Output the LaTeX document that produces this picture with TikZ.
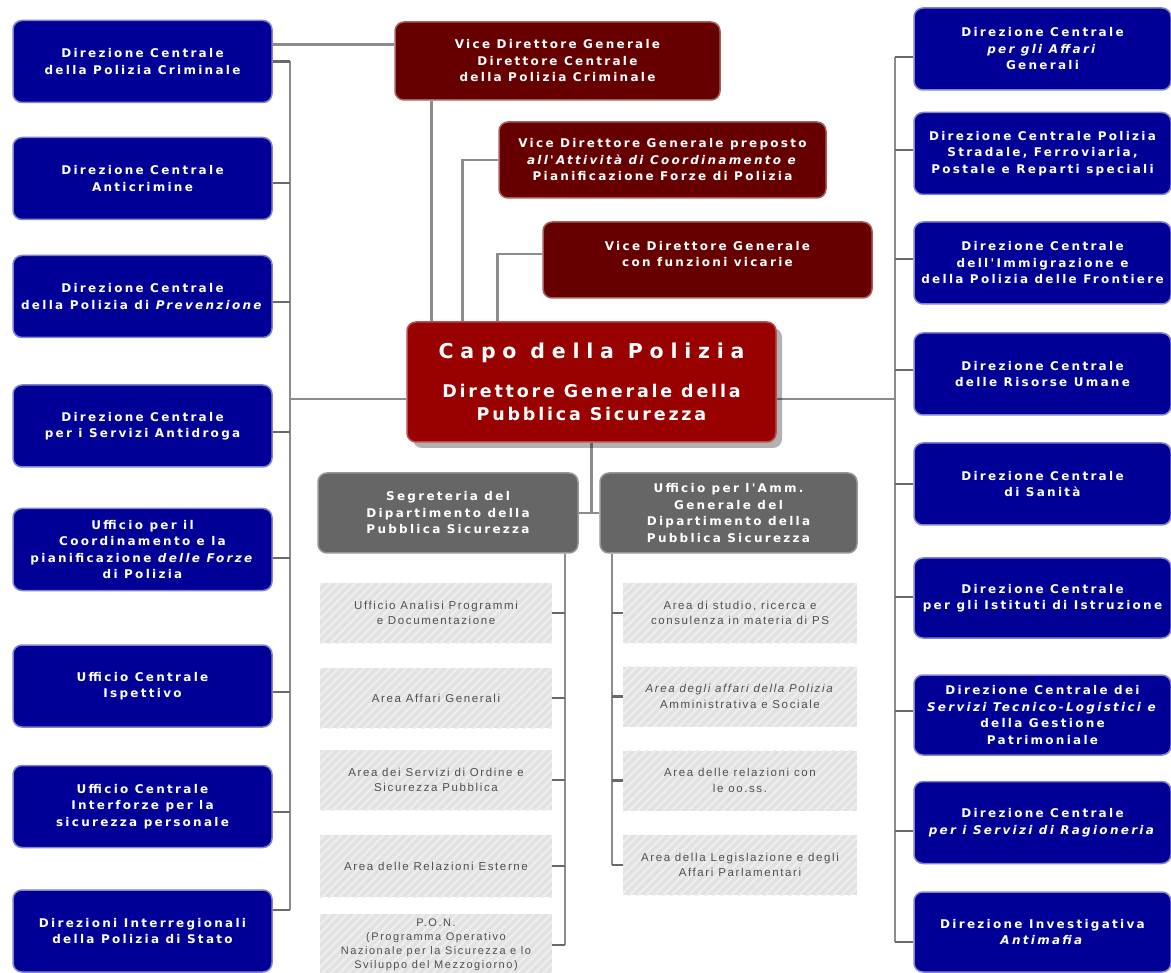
\documentclass[tikz,border=0pt]{standalone}
\usepackage{fontspec}
\usetikzlibrary{patterns.meta,shadows,backgrounds}
\newfontfamily\boxfont{DejaVu Sans}[LetterSpace=19]
\newfontfamily\capofont{DejaVu Sans}[LetterSpace=33]
\newfontfamily\subfont{DejaVu Sans}[LetterSpace=16]
\newfontfamily\areafont{Liberation Sans}[LetterSpace=14]
\definecolor{navy}{RGB}{0,0,150}
\definecolor{navyedge}{RGB}{130,130,205}
\definecolor{vicered}{RGB}{102,0,0}
\definecolor{viceedge}{RGB}{165,95,95}
\definecolor{capored}{RGB}{153,0,0}
\definecolor{capoedge}{RGB}{185,80,80}
\definecolor{boxgray}{RGB}{102,102,102}
\definecolor{grayedge}{RGB}{150,150,150}
\definecolor{hatchbg}{RGB}{226,226,226}
\definecolor{hatchline}{RGB}{238,238,238}
\definecolor{areatext}{RGB}{80,80,80}
\definecolor{linegray}{RGB}{140,140,140}
\definecolor{tickgray}{RGB}{105,105,105}
\begin{document}
\begin{tikzpicture}[x=1pt,y=-1pt,
 bx/.style={rounded corners=9pt, inner sep=0pt, align=center, text=white,
   font=\boxfont\bfseries\fontsize{12}{16.5}\selectfont},
 bluebox/.style={bx, fill=navy, draw=navyedge, line width=1.5pt, minimum width=259pt, minimum height=82pt},
 rbox/.style={bluebox, minimum width=257pt},
 vicebox/.style={bx, fill=vicered, draw=viceedge, line width=1.5pt, minimum height=77pt},
 capobox/.style={bx, fill=capored, draw=capoedge, line width=1.5pt, minimum width=369pt, minimum height=120pt,
   drop shadow={shadow xshift=6pt, shadow yshift=-6pt, fill=black, opacity=0.3},
   font=\subfont\bfseries\fontsize{17.5}{23}\selectfont},
 graybox/.style={bx, fill=boxgray, draw=grayedge, line width=1.5pt, minimum height=80pt},
 areabox/.style={inner sep=0pt, align=center, text=areatext, fill=hatchbg,
   postaction={pattern={Lines[angle=45,distance=6pt,line width=2.2pt]}, pattern color=hatchline},
   minimum height=60pt, font=\areafont\fontsize{11.5}{15.5}\selectfont},
 conn/.style={draw=linegray, line width=2.5pt},
 tick/.style={draw=tickgray, line width=2.5pt}]
\useasboundingbox (0,0) rectangle (1171,973);

% left column
\node[bluebox] (L1) at (142.5,61.5) {Direzione Centrale\\della Polizia Criminale};
\node[bluebox] (L2) at (142.5,178.5) {Direzione Centrale\\Anticrimine};
\node[bluebox] (L3) at (142.5,296.5) {Direzione Centrale\\della Polizia di \textit{Prevenzione}};
\node[bluebox] (L4) at (142.5,426) {Direzione Centrale\\per i Servizi Antidroga};
\node[bluebox] (L5) at (142.5,549.5) {Ufficio per il\\Coordinamento e la\\pianificazione \textit{delle Forze}\\di Polizia};
\node[bluebox] (L6) at (142.5,686) {Ufficio Centrale\\Ispettivo};
\node[bluebox] (L7) at (142.5,806.5) {Ufficio Centrale\\Interforze per la\\sicurezza personale};
\node[bluebox] (L8) at (142.5,931) {Direzioni Interregionali\\della Polizia di Stato};

% right column
\node[rbox] (R1) at (1042.5,49) {Direzione Centrale\\\textit{per gli Affari}\\Generali};
\node[rbox] (R2) at (1042.5,153.5) {Direzione Centrale Polizia\\Stradale, Ferroviaria,\\Postale e Reparti speciali};
\node[rbox] (R3) at (1042.5,263) {Direzione Centrale\\dell'Immigrazione e\\della Polizia delle Frontiere};
\node[rbox] (R4) at (1042.5,374) {Direzione Centrale\\delle Risorse Umane};
\node[rbox] (R5) at (1042.5,484) {Direzione Centrale\\di Sanità};
\node[rbox, minimum height=80pt] (R6) at (1042.5,598) {Direzione Centrale\\per gli Istituti di Istruzione};
\node[rbox, minimum height=80pt] (R7) at (1042.5,715) {Direzione Centrale dei\\\textit{Servizi Tecnico-Logistici e}\\della Gestione\\Patrimoniale};
\node[rbox] (R8) at (1042.5,822.5) {Direzione Centrale\\\textit{per i Servizi di Ragioneria}};
\node[rbox, minimum height=80pt] (R9) at (1042.5,932) {Direzione Investigativa\\\textit{Antimafia}};

% vice directors
\node[vicebox, minimum width=325pt, minimum height=78pt] (V1) at (557.5,61) {Vice Direttore Generale\\Direttore Centrale\\della Polizia Criminale};
\node[vicebox, minimum width=327pt, minimum height=76pt] (V2) at (662.5,160) {Vice Direttore Generale preposto\\\textit{all'Attività di Coordinamento e}\\Pianificazione Forze di Polizia};
\node[vicebox, minimum width=329pt, minimum height=76pt] (V3) at (707.5,260) {Vice Direttore Generale\\con funzioni vicarie\\[-4pt]~};

% capo
\node[capobox] (capo) at (591.5,382) {{\capofont\bfseries\fontsize{20.5}{24}\selectfont Capo della Polizia}\\[16pt]Direttore Generale della\\Pubblica Sicurezza};

% gray boxes
\node[graybox, minimum width=260pt] (seg) at (448,513) {Segreteria del\\Dipartimento della\\Pubblica Sicurezza};
\node[graybox, minimum width=257pt] (uff) at (728.5,513) {Ufficio per l'Amm.\\Generale del\\Dipartimento della\\Pubblica Sicurezza};

% areas left
\node[areabox, minimum width=232pt] (A1) at (436,613) {Ufficio Analisi Programmi\\e Documentazione};
\node[areabox, minimum width=232pt] (A2) at (436,698) {Area Affari Generali};
\node[areabox, minimum width=232pt] (A3) at (436,780) {Area dei Servizi di Ordine e\\Sicurezza Pubblica};
\node[areabox, minimum width=232pt, minimum height=62pt] (A4) at (436,866) {Area delle Relazioni Esterne};
\node[areabox, minimum width=232pt, minimum height=62pt, font=\areafont\fontsize{11}{14}\selectfont] (A5) at (436,945) {P.O.N.\\(Programma Operativo\\Nazionale per la Sicurezza e lo\\Sviluppo del Mezzogiorno)};

% areas right
\node[areabox, minimum width=234pt] (B1) at (740,613) {Area di studio, ricerca e\\consulenza in materia di PS};
\node[areabox, minimum width=234pt] (B2) at (740,696.5) {\textit{Area degli affari della Polizia}\\Amministrativa e Sociale};
\node[areabox, minimum width=234pt] (B3) at (740,780.5) {Area delle relazioni con\\le oo.ss.};
\node[areabox, minimum width=234pt] (B4) at (740,865) {Area della Legislazione e degli\\Affari Parlamentari};

% helper coordinates
\coordinate (lbus) at (290,0);
\coordinate (rbus) at (895,0);
\coordinate (lsub) at (565,0);
\coordinate (rsub) at (612,0);
\foreach \n/\s in {L1/0,L2/-4.5,L3/-5.5,L4/-6,L5/-8.5,L6/-6,L7/-5.5,L8/21}{
  \coordinate (t\n) at ([yshift=\s pt]\n.east);
}
\foreach \n/\s in {R1/-8,R2/3.5,R3/4,R4/4,R5/0,R6/1,R7/4,R8/-8.5,R9/-10}{
  \coordinate (t\n) at ([yshift=\s pt]\n.west);
}
\coordinate (capoL) at ([yshift=-17pt]capo.west);
\coordinate (capoR) at ([yshift=-17pt]capo.east);
\coordinate (c1) at ([xshift=25pt]capo.north west);
\coordinate (c2) at ([xshift=56pt]capo.north west);
\coordinate (c3) at ([xshift=91pt]capo.north west);
\coordinate (v3w) at ([yshift=6pt]V3.west);
\coordinate (l1v) at ([yshift=17pt]L1.east);

\begin{scope}[on background layer]
\fill[white] (0,0) rectangle (1171,973);
% left bus
\draw[conn] (tL1 -| lbus) -- (tL8 -| lbus);
\foreach \n in {L1,L2,L3,L4,L5,L6,L7,L8}{\draw[tick] (t\n) -- (t\n -| lbus);}
% right bus
\draw[conn] (tR1 -| rbus) -- (tR9 -| rbus);
\foreach \n in {R1,R2,R3,R4,R5,R6,R7,R8,R9}{\draw[tick] (t\n) -- (t\n -| rbus);}
% capo links
\draw[conn] (capoL) -- (capoL -| lbus);
\draw[conn] (capoR) -- (capoR -| rbus);
\draw[conn] (l1v) -- (l1v -| V1.west);
\draw[conn] (V1.south -| c1) -- (c1);
\draw[conn] (V2.west) -| (c2);
\draw[conn] (v3w) -| (c3);
\draw[conn] (capo.south) -- (capo.south |- seg.east);
\draw[conn] (seg.east) -- (uff.west);
% sub buses
\draw[conn] (seg.south -| lsub) -- (A5.east -| lsub);
\foreach \n in {A1,A2,A3,A4,A5}{\draw[tick] (\n.east) -- (\n.east -| lsub);}
\draw[conn] (uff.south -| rsub) -- (B4.west -| rsub);
\foreach \n in {B1,B2,B3,B4}{\draw[tick] (\n.west) -- (\n.west -| rsub);}
\end{scope}
\end{tikzpicture}
\end{document}
